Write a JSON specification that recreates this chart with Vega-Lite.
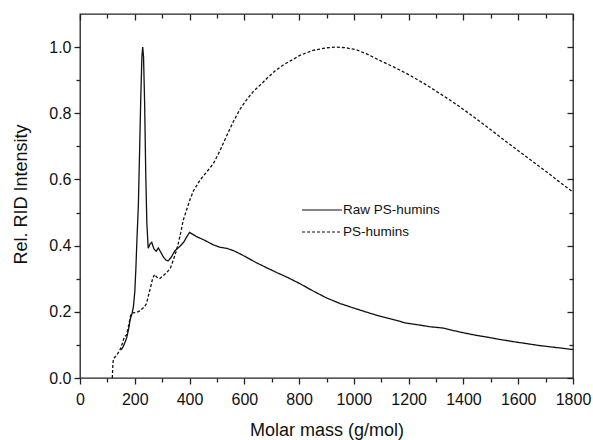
{
  "$schema": "https://vega.github.io/schema/vega-lite/v6.json",
  "width": 493,
  "height": 364,
  "autosize": {"type": "none"},
  "padding": {"left": 80, "top": 14, "right": 20, "bottom": 62},
  "background": "white",
  "config": {
    "font": "Liberation Sans",
    "view": {"stroke": "#222", "strokeWidth": 1.3},
    "axis": {"domain": false, "grid": false, "tickColor": "#222", "tickWidth": 1.3, "labelColor": "#111", "titleColor": "#111", "labelFont": "Liberation Sans", "titleFont": "Liberation Sans", "titleFontWeight": "normal"}
  },
  "data": {"values": [
    {"s": "Raw PS-humins", "x": 150, "y": 0.085},
    {"s": "Raw PS-humins", "x": 158, "y": 0.095},
    {"s": "Raw PS-humins", "x": 170, "y": 0.12},
    {"s": "Raw PS-humins", "x": 178, "y": 0.15},
    {"s": "Raw PS-humins", "x": 183, "y": 0.176},
    {"s": "Raw PS-humins", "x": 190, "y": 0.195},
    {"s": "Raw PS-humins", "x": 195, "y": 0.215},
    {"s": "Raw PS-humins", "x": 200, "y": 0.26},
    {"s": "Raw PS-humins", "x": 204, "y": 0.33},
    {"s": "Raw PS-humins", "x": 208, "y": 0.42},
    {"s": "Raw PS-humins", "x": 213, "y": 0.52},
    {"s": "Raw PS-humins", "x": 218, "y": 0.7},
    {"s": "Raw PS-humins", "x": 222, "y": 0.85},
    {"s": "Raw PS-humins", "x": 226, "y": 0.97},
    {"s": "Raw PS-humins", "x": 229, "y": 1.0},
    {"s": "Raw PS-humins", "x": 232, "y": 0.97},
    {"s": "Raw PS-humins", "x": 236, "y": 0.83},
    {"s": "Raw PS-humins", "x": 240, "y": 0.62},
    {"s": "Raw PS-humins", "x": 244, "y": 0.47},
    {"s": "Raw PS-humins", "x": 249, "y": 0.392},
    {"s": "Raw PS-humins", "x": 256, "y": 0.405},
    {"s": "Raw PS-humins", "x": 262, "y": 0.41},
    {"s": "Raw PS-humins", "x": 270, "y": 0.39},
    {"s": "Raw PS-humins", "x": 278, "y": 0.383},
    {"s": "Raw PS-humins", "x": 286, "y": 0.393},
    {"s": "Raw PS-humins", "x": 295, "y": 0.38},
    {"s": "Raw PS-humins", "x": 305, "y": 0.365},
    {"s": "Raw PS-humins", "x": 314, "y": 0.356},
    {"s": "Raw PS-humins", "x": 322, "y": 0.354},
    {"s": "Raw PS-humins", "x": 333, "y": 0.365},
    {"s": "Raw PS-humins", "x": 347, "y": 0.385},
    {"s": "Raw PS-humins", "x": 365, "y": 0.398},
    {"s": "Raw PS-humins", "x": 380, "y": 0.412},
    {"s": "Raw PS-humins", "x": 390, "y": 0.427},
    {"s": "Raw PS-humins", "x": 400, "y": 0.44},
    {"s": "Raw PS-humins", "x": 412, "y": 0.434},
    {"s": "Raw PS-humins", "x": 426, "y": 0.427},
    {"s": "Raw PS-humins", "x": 445, "y": 0.42},
    {"s": "Raw PS-humins", "x": 463, "y": 0.413},
    {"s": "Raw PS-humins", "x": 485, "y": 0.403},
    {"s": "Raw PS-humins", "x": 511, "y": 0.395},
    {"s": "Raw PS-humins", "x": 535, "y": 0.392},
    {"s": "Raw PS-humins", "x": 560, "y": 0.385},
    {"s": "Raw PS-humins", "x": 585, "y": 0.375},
    {"s": "Raw PS-humins", "x": 608, "y": 0.365},
    {"s": "Raw PS-humins", "x": 640, "y": 0.35},
    {"s": "Raw PS-humins", "x": 682, "y": 0.333},
    {"s": "Raw PS-humins", "x": 720, "y": 0.318},
    {"s": "Raw PS-humins", "x": 755, "y": 0.305},
    {"s": "Raw PS-humins", "x": 803, "y": 0.285},
    {"s": "Raw PS-humins", "x": 851, "y": 0.263},
    {"s": "Raw PS-humins", "x": 900, "y": 0.242},
    {"s": "Raw PS-humins", "x": 950, "y": 0.225},
    {"s": "Raw PS-humins", "x": 997, "y": 0.212},
    {"s": "Raw PS-humins", "x": 1050, "y": 0.198},
    {"s": "Raw PS-humins", "x": 1094, "y": 0.187},
    {"s": "Raw PS-humins", "x": 1150, "y": 0.175},
    {"s": "Raw PS-humins", "x": 1191, "y": 0.166},
    {"s": "Raw PS-humins", "x": 1240, "y": 0.16},
    {"s": "Raw PS-humins", "x": 1277, "y": 0.155},
    {"s": "Raw PS-humins", "x": 1325, "y": 0.151},
    {"s": "Raw PS-humins", "x": 1360, "y": 0.144},
    {"s": "Raw PS-humins", "x": 1398, "y": 0.137},
    {"s": "Raw PS-humins", "x": 1440, "y": 0.13},
    {"s": "Raw PS-humins", "x": 1483, "y": 0.124},
    {"s": "Raw PS-humins", "x": 1530, "y": 0.117},
    {"s": "Raw PS-humins", "x": 1581, "y": 0.11},
    {"s": "Raw PS-humins", "x": 1630, "y": 0.104},
    {"s": "Raw PS-humins", "x": 1678, "y": 0.098},
    {"s": "Raw PS-humins", "x": 1740, "y": 0.092},
    {"s": "Raw PS-humins", "x": 1800, "y": 0.086},
    {"s": "PS-humins", "x": 118, "y": 0.0},
    {"s": "PS-humins", "x": 120, "y": 0.04},
    {"s": "PS-humins", "x": 122, "y": 0.058},
    {"s": "PS-humins", "x": 135, "y": 0.07},
    {"s": "PS-humins", "x": 146, "y": 0.085},
    {"s": "PS-humins", "x": 155, "y": 0.105},
    {"s": "PS-humins", "x": 162, "y": 0.125},
    {"s": "PS-humins", "x": 170, "y": 0.13},
    {"s": "PS-humins", "x": 178, "y": 0.16},
    {"s": "PS-humins", "x": 185, "y": 0.19},
    {"s": "PS-humins", "x": 192, "y": 0.197},
    {"s": "PS-humins", "x": 205, "y": 0.198},
    {"s": "PS-humins", "x": 219, "y": 0.203},
    {"s": "PS-humins", "x": 235, "y": 0.215},
    {"s": "PS-humins", "x": 243, "y": 0.225},
    {"s": "PS-humins", "x": 250, "y": 0.25},
    {"s": "PS-humins", "x": 258, "y": 0.275},
    {"s": "PS-humins", "x": 265, "y": 0.3},
    {"s": "PS-humins", "x": 272, "y": 0.313},
    {"s": "PS-humins", "x": 280, "y": 0.305},
    {"s": "PS-humins", "x": 290, "y": 0.3},
    {"s": "PS-humins", "x": 302, "y": 0.308},
    {"s": "PS-humins", "x": 316, "y": 0.318},
    {"s": "PS-humins", "x": 330, "y": 0.332},
    {"s": "PS-humins", "x": 341, "y": 0.357},
    {"s": "PS-humins", "x": 350, "y": 0.38},
    {"s": "PS-humins", "x": 359, "y": 0.407},
    {"s": "PS-humins", "x": 368, "y": 0.44},
    {"s": "PS-humins", "x": 377, "y": 0.477},
    {"s": "PS-humins", "x": 390, "y": 0.51},
    {"s": "PS-humins", "x": 402, "y": 0.54},
    {"s": "PS-humins", "x": 414, "y": 0.565},
    {"s": "PS-humins", "x": 438, "y": 0.598},
    {"s": "PS-humins", "x": 462, "y": 0.622},
    {"s": "PS-humins", "x": 487, "y": 0.648},
    {"s": "PS-humins", "x": 510, "y": 0.685},
    {"s": "PS-humins", "x": 536, "y": 0.733},
    {"s": "PS-humins", "x": 560, "y": 0.775},
    {"s": "PS-humins", "x": 584, "y": 0.812},
    {"s": "PS-humins", "x": 610, "y": 0.843},
    {"s": "PS-humins", "x": 633, "y": 0.866},
    {"s": "PS-humins", "x": 660, "y": 0.887},
    {"s": "PS-humins", "x": 682, "y": 0.905},
    {"s": "PS-humins", "x": 712, "y": 0.928},
    {"s": "PS-humins", "x": 742, "y": 0.946},
    {"s": "PS-humins", "x": 778, "y": 0.963},
    {"s": "PS-humins", "x": 803, "y": 0.975},
    {"s": "PS-humins", "x": 851, "y": 0.99},
    {"s": "PS-humins", "x": 900, "y": 0.998},
    {"s": "PS-humins", "x": 936, "y": 1.0},
    {"s": "PS-humins", "x": 970, "y": 0.998},
    {"s": "PS-humins", "x": 1009, "y": 0.992},
    {"s": "PS-humins", "x": 1050, "y": 0.978},
    {"s": "PS-humins", "x": 1094, "y": 0.96},
    {"s": "PS-humins", "x": 1150, "y": 0.938},
    {"s": "PS-humins", "x": 1204, "y": 0.915},
    {"s": "PS-humins", "x": 1260, "y": 0.888},
    {"s": "PS-humins", "x": 1313, "y": 0.86},
    {"s": "PS-humins", "x": 1360, "y": 0.835},
    {"s": "PS-humins", "x": 1411, "y": 0.805},
    {"s": "PS-humins", "x": 1460, "y": 0.775},
    {"s": "PS-humins", "x": 1508, "y": 0.745},
    {"s": "PS-humins", "x": 1555, "y": 0.715},
    {"s": "PS-humins", "x": 1605, "y": 0.684},
    {"s": "PS-humins", "x": 1650, "y": 0.656},
    {"s": "PS-humins", "x": 1702, "y": 0.624},
    {"s": "PS-humins", "x": 1750, "y": 0.593},
    {"s": "PS-humins", "x": 1800, "y": 0.562}
  ]},
  "layer": [
    {
      "mark": {"type": "line", "color": "#111", "strokeWidth": 1.3},
      "encoding": {
        "x": {"field": "x", "type": "quantitative", "scale": {"domain": [0, 1800], "nice": false, "zero": false},
          "axis": {"orient": "bottom", "values": [0, 200, 400, 600, 800, 1000, 1200, 1400, 1600, 1800], "format": "d", "tickSize": 6, "labelPadding": 7, "labelFontSize": 16, "labelFlush": false, "title": "Molar mass (g/mol)", "titleFontSize": 18, "titleX": 246.5, "titleY": 57, "titleBaseline": "alphabetic", "titleAlign": "center"}},
        "y": {"field": "y", "type": "quantitative", "scale": {"domain": [0, 1.1], "nice": false},
          "axis": {"orient": "left", "values": [0, 0.2, 0.4, 0.6, 0.8, 1.0], "format": ".1f", "tickSize": 6, "labelPadding": 3, "labelFontSize": 16, "labelFlush": false, "title": "Rel. RID  Intensity", "titleFontSize": 18, "titleX": -59, "titleY": 180, "titleAngle": 270, "titleAlign": "center", "titleBaseline": "middle"}},
        "strokeDash": {"field": "s", "type": "nominal",
          "scale": {"domain": ["Raw PS-humins", "PS-humins"], "range": [[1, 0], [3, 2]]},
          "legend": {"orient": "none", "legendX": 221, "legendY": 185, "title": null, "padding": 0, "symbolType": "stroke", "symbolSize": 1600, "symbolStrokeColor": "#111", "symbolStrokeWidth": 1.2, "labelFontSize": 13.5, "labelOffset": 0, "labelColor": "#111", "rowPadding": 0, "clipHeight": 22}}
      }
    },
    {
      "mark": {"type": "line", "strokeOpacity": 0},
      "encoding": {
        "x": {"field": "x", "type": "quantitative", "axis": {"orient": "bottom", "values": [100, 300, 500, 700, 900, 1100, 1300, 1500, 1700], "tickSize": 4, "labels": false, "title": null}},
        "y": {"field": "y", "type": "quantitative", "axis": {"orient": "left", "values": [0.1, 0.3, 0.5, 0.7, 0.9], "tickSize": 4, "labels": false, "title": null}}
      }
    },
    {
      "mark": {"type": "line", "strokeOpacity": 0},
      "encoding": {
        "x": {"field": "x", "type": "quantitative", "axis": {"orient": "top", "values": [0, 200, 400, 600, 800, 1000, 1200, 1400, 1600, 1800], "tickSize": 6, "offset": -6, "labels": false, "title": null}},
        "y": {"field": "y", "type": "quantitative", "axis": {"orient": "right", "values": [0, 0.2, 0.4, 0.6, 0.8, 1.0], "tickSize": 6, "offset": -6, "labels": false, "title": null}}
      }
    },
    {
      "mark": {"type": "line", "strokeOpacity": 0},
      "encoding": {
        "x": {"field": "x", "type": "quantitative", "axis": {"orient": "top", "values": [100, 300, 500, 700, 900, 1100, 1300, 1500, 1700], "tickSize": 4, "offset": -4, "labels": false, "title": null}},
        "y": {"field": "y", "type": "quantitative", "axis": {"orient": "right", "values": [0.1, 0.3, 0.5, 0.7, 0.9], "tickSize": 4, "offset": -4, "labels": false, "title": null}}
      }
    }
  ],
  "resolve": {"axis": {"x": "independent", "y": "independent"}}
}
